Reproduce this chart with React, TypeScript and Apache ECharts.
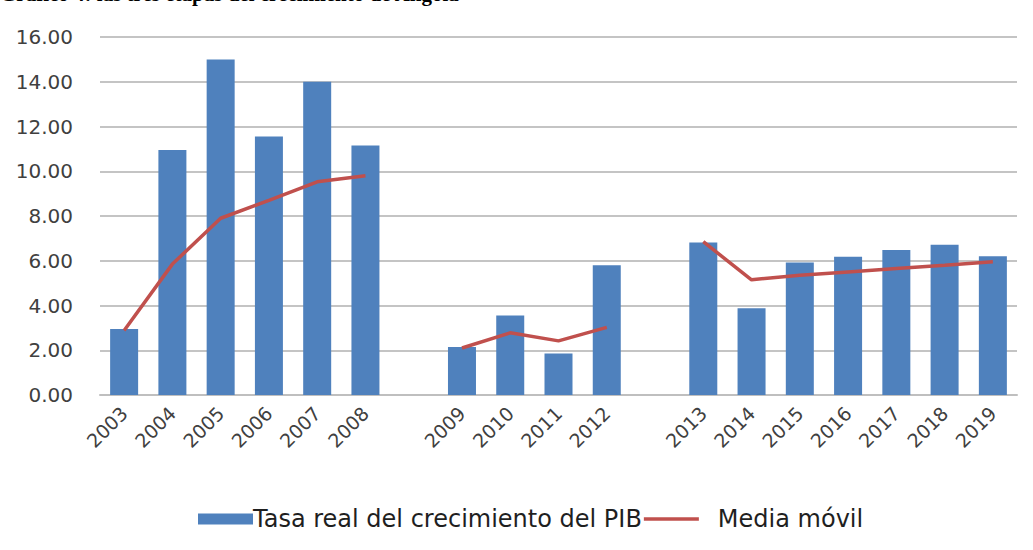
import React, { useEffect, useRef } from "react";
import * as echarts from "echarts";

const categories = ["2003", "2004", "2005", "2006", "2007", "2008", "", "2009", "2010", "2011", "2012", "", "2013", "2014", "2015", "2016", "2017", "2018", "2019"];
const pibGrowth = [2.95, 10.95, 15.0, 11.55, 14.0, 11.15, null, 2.15, 3.55, 1.85, 5.8, null, 6.82, 3.88, 5.92, 6.18, 6.48, 6.72, 6.2];
const movingAverage = [2.88, 5.85, 7.9, 8.7, 9.53, 9.8, null, 2.1, 2.78, 2.42, 3.02, null, 6.85, 5.15, 5.35, 5.5, 5.65, 5.8, 5.96];
const yTicks = { min: 0, max: 16, interval: 2 };
const seriesNames = ["Tasa real del crecimiento del PIB", "Media móvil"];
const titleText = "Gráfico 4: las tres etapas del crecimiento de Angola";

export default function App() {
  const ref = useRef<HTMLDivElement>(null);
  useEffect(() => {
    document.body.style.margin = "0";
    const chart = echarts.init(ref.current!, null, { renderer: "svg" });
    chart.setOption({
      animation: false,
      backgroundColor: "#ffffff",
      grid: { left: 100, right: 16, top: 37, bottom: 155, containLabel: false },
      graphic: [
        {
          type: "text",
          left: 0,
          top: -17,
          style: {
            text: titleText,
            font: "bold 21px 'Liberation Serif', serif",
            fill: "#000",
          },
        },
      ],
      legend: {
        left: 193,
        top: 502,
        itemWidth: 55,
        itemHeight: 11,
        itemGap: 2,
        data: [
          { name: seriesNames[0], icon: "rect", textStyle: { padding: [0, 0, 0, -5] } },
          { name: seriesNames[1], icon: "path://M0,0 L55,0 L55,3.5 L0,3.5 Z", textStyle: { padding: [0, 0, 0, 14] } },
        ],
        textStyle: {
          fontFamily: "DejaVu Sans",
          fontSize: 24,
          color: "#1f1f1f",
        },
      },
      xAxis: {
        type: "category",
        data: categories,
        axisTick: { show: false },
        axisLine: { lineStyle: { color: "#BFBFBF", width: 2 } },
        axisLabel: {
          interval: 0,
          rotate: 45,
          margin: 15,
          fontFamily: "DejaVu Sans",
          fontSize: 19,
          color: "#404040",
        },
      },
      yAxis: {
        type: "value",
        min: yTicks.min,
        max: yTicks.max,
        interval: yTicks.interval,
        axisLine: { show: false },
        axisTick: { show: false },
        splitLine: { lineStyle: { color: "#C4C4C4", width: 2 } },
        axisLabel: {
          margin: 27,
          fontFamily: "DejaVu Sans",
          fontSize: 20,
          color: "#404040",
          formatter: (v: number) => v.toFixed(2),
        },
      },
      series: [
        {
          name: seriesNames[0],
          type: "bar",
          data: pibGrowth,
          barWidth: 28,
          itemStyle: { color: "#4F81BD" },
        },
        {
          name: seriesNames[1],
          type: "line",
          data: movingAverage,
          symbol: "none",
          connectNulls: false,
          lineStyle: { color: "#C0504D", width: 3.5 },
          itemStyle: { color: "#C0504D" },
        },
      ],
    });
    return () => chart.dispose();
  }, []);
  return <div ref={ref} style={{ width: 1033, height: 550 }} />;
}
